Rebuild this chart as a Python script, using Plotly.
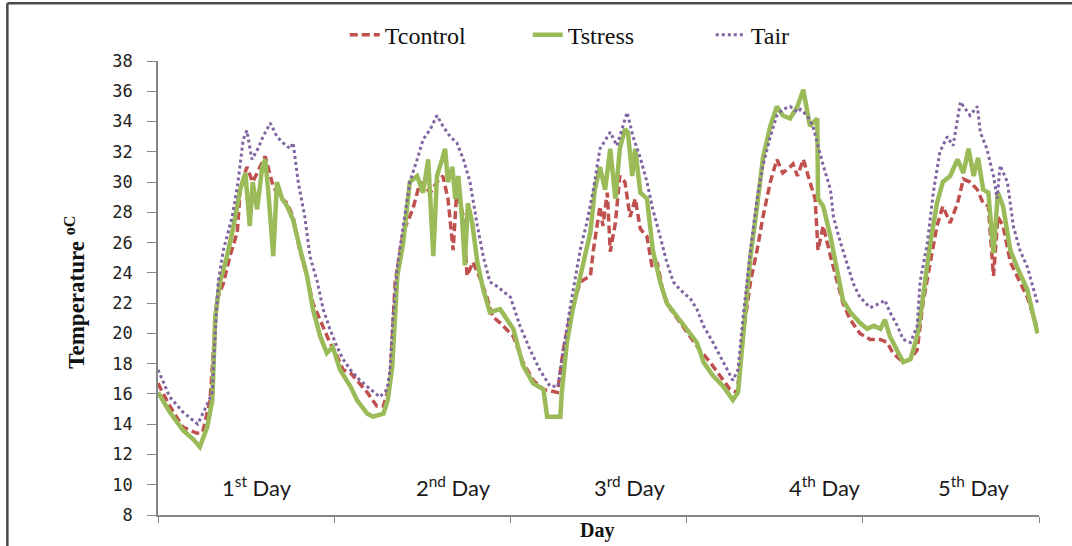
import plotly.graph_objects as go

# ---- data (hours from start, temperature in degC) ----
tair_h = [0, 1.6, 3.4, 5.4, 6.4, 7.4, 7.8, 8.2, 8.9, 10.1, 10.9, 11.6, 12.1, 12.8, 13.6, 14.3, 15.3, 16.2, 17.0, 18.0,
          18.4, 19.1, 20.0, 20.7, 21.7, 22.5, 23.4, 24.4, 25.2, 26.2, 27.5, 28.9, 30.2, 31.2, 31.6, 32.0, 32.6, 33.4,
          34.3, 35.3, 36.1, 37.1, 38.0, 38.8, 39.8, 40.7, 41.6, 42.5, 43.5, 44.3, 45.2, 46.2, 48.0, 49.3, 50.7, 52.0,
          53.4, 54.5, 55.2, 56.1, 57.5, 58.4, 59.3, 60.2, 61.6, 62.5, 63.4, 63.9, 64.7, 65.7, 66.6, 67.4, 68.4, 69.3,
          70.2, 71.1, 72.5, 73.4, 74.3, 75.6, 77.0, 78.3, 79.0, 79.7, 80.7, 81.6, 82.4, 83.4, 84.3, 85.1, 86.1, 87.1,
          87.5, 88.4, 89.2, 89.8, 90.6, 91.6, 92.0, 92.9, 93.9, 94.7, 95.6, 97.0, 98.4, 99.0, 99.7, 100.7, 101.5,
          102.5, 103.4, 103.8, 104.8, 105.6, 106.5, 107.5, 108.3, 109.3, 110.6, 111.6, 112.0, 112.9, 113.8, 114.3,
          114.7, 115.7, 116.5, 117.4, 118.4, 119.8]
tair = [17.6, 15.8, 14.8, 14.0, 15.0, 16.1, 20.0, 23.4, 25.5, 27.7, 30.0, 32.8, 33.4, 31.5, 32.2, 33.0, 33.9, 33.0, 32.6, 32.2,
        32.6, 30.0, 27.7, 25.1, 23.4, 21.6, 20.3, 19.1, 18.3, 17.6, 16.9, 16.3, 15.8, 16.3, 17.6, 21.1, 24.4, 27.1,
        30.0, 31.5, 32.8, 33.5, 34.4, 33.7, 33.0, 32.6, 31.5, 30.0, 27.1, 25.1, 23.4, 23.1, 22.4, 20.5, 18.9, 17.6,
        16.5, 16.5, 18.9, 21.6, 25.5, 27.3, 29.5, 32.2, 33.3, 32.4, 33.9, 34.6, 33.0, 31.6, 30.0, 28.2, 26.4, 24.7,
        23.4, 22.9, 22.3, 21.6, 20.5, 19.4, 18.1, 16.9, 17.6, 21.1, 25.5, 28.9, 31.1, 33.0, 34.4, 34.8, 35.0, 34.6,
        34.8, 34.4, 33.7, 32.6, 31.1, 29.5, 27.7, 26.1, 24.6, 23.3, 22.4, 21.7, 22.0, 22.2, 21.4, 20.5, 19.6,
        19.4, 20.5, 23.4, 26.0, 29.3, 32.0, 33.0, 32.4, 35.3, 34.4, 35.0, 33.3, 32.2, 30.4, 28.9,
        31.1, 30.0, 27.1, 25.5, 24.4, 22.0]

tcontrol_h = [0, 1.6, 3.4, 5.3, 6.1, 7.1, 8.0, 8.9, 9.8, 10.8, 11.2, 12.1, 12.9, 13.9, 14.6, 15.7, 16.6, 17.6, 18.4, 19.3,
              20.3, 21.1, 22.5, 23.4, 24.4, 25.2, 26.2, 27.1, 28.5, 29.8, 30.7, 31.6, 32.3, 33.4, 34.7, 35.7, 37.1, 38.0,
              38.8, 39.5, 40.2, 40.7, 41.6, 42.1, 42.9, 43.9, 44.8, 45.6, 46.6, 48.4, 49.7, 51.1, 52.5, 54.4, 55.2,
              56.1, 57.5, 58.9, 59.3, 60.2, 60.6, 61.2, 61.6, 62.3, 62.9, 63.6, 64.3, 65.0, 65.7, 66.6, 67.3, 68.0,
              68.8, 69.8, 71.1, 72.5, 73.8, 75.2, 76.6, 77.9, 78.9, 79.7, 80.7, 81.6, 82.4, 83.4, 84.3, 85.1, 86.1,
              86.5, 87.1, 87.9, 88.8, 89.5, 89.9, 90.6, 91.6, 92.5, 93.3, 94.3, 95.6, 97.0, 98.4, 99.3, 100.1, 101.5,
              102.5, 103.4, 104.2, 105.2, 106.1, 106.9, 107.9, 108.9, 109.7, 110.6, 111.6, 112.4, 113.1, 113.8,
              114.4, 115.1, 116.1, 117.0, 118.4, 119.8]
tcontrol = [16.7, 15.2, 13.8, 13.4, 13.5, 15.6, 22.2, 23.3, 25.1, 26.7, 29.5, 31.0, 30.0, 31.0, 31.7, 29.7, 29.0, 28.6, 27.7, 25.5,
            23.8, 22.0, 20.5, 19.4, 18.5, 17.6, 17.4, 16.9, 16.1, 15.2, 15.2, 16.7, 23.4, 26.7, 28.2, 30.0, 29.3, 30.0,
            30.4, 28.9, 25.5, 29.5, 27.7, 23.8, 24.7, 23.6, 22.4, 21.1, 20.7, 19.8, 18.1, 16.9, 16.3, 16.1, 18.9,
            21.1, 23.4, 23.8, 25.5, 28.4, 27.1, 29.3, 25.4, 27.3, 30.4, 30.0, 27.7, 28.9, 26.9, 26.4, 24.4, 24.7,
            22.7, 21.6, 20.7, 19.8, 18.9, 18.1, 17.2, 16.3, 16.1, 20.0, 23.4, 25.5, 27.7, 30.0, 31.5, 30.6, 31.0,
            31.2, 30.4, 31.5, 30.0, 28.9, 25.5, 27.1, 25.1, 23.4, 22.0, 20.9, 20.0, 19.6, 19.6, 19.4, 18.7, 18.1,
            18.3, 18.9, 22.0, 24.7, 27.1, 28.4, 27.3, 28.6, 30.2, 30.0, 29.5, 28.6, 28.4, 23.8,
            27.7, 27.1, 24.7, 23.8, 22.4, 20.3]

tstress_h = [0, 1.6, 3.4, 4.8, 5.7, 6.7, 7.4, 7.8, 8.4, 9.4, 10.2, 11.2, 11.9, 12.5, 12.9, 13.5, 14.2, 14.6, 15.0, 15.7,
             16.2, 16.9, 17.6, 18.4, 19.3, 20.3, 21.1, 22.1, 23.0, 23.8, 24.8, 26.2, 27.1, 28.5, 29.3, 30.7, 31.3,
             31.9, 32.6, 33.4, 34.3, 35.3, 36.1, 36.8, 37.5, 38.0, 38.7, 39.1, 39.5, 40.1, 40.5, 40.9, 41.4, 41.8,
             42.2, 42.8, 43.5, 44.3, 45.2, 46.2, 46.6, 48.4, 49.7, 51.1, 52.5, 53.0, 54.8, 55.0, 55.7, 56.5, 57.9,
             58.9, 59.5, 60.2, 60.9, 61.6, 62.3, 62.9, 63.6, 64.0, 64.6, 65.0, 65.7, 66.6, 67.4, 68.4, 69.3, 70.7,
             72.1, 73.4, 74.3, 75.6, 77.0, 78.3, 79.0, 79.7, 80.7, 81.6, 82.4, 83.4, 84.3, 85.1, 86.1, 87.1, 87.9,
             88.8, 89.8, 89.9, 90.6, 91.6, 92.5, 93.3, 94.3, 95.6, 96.6, 97.5, 98.4, 99.0, 99.7, 100.7, 101.5,
             102.5, 103.4, 104.2, 105.2, 106.1, 106.9, 107.9, 108.9, 109.7, 110.4, 111.1, 111.7, 112.4, 113.1,
             113.8, 114.4, 115.1, 116.1, 117.0, 118.4, 119.8]
tstress = [16.1, 14.8, 13.6, 13.0, 12.5, 13.8, 15.6, 21.1, 23.3, 25.1, 26.9, 29.5, 30.6, 27.1, 30.0, 28.2, 31.0, 31.5, 29.5, 25.1,
           30.0, 28.9, 28.4, 27.5, 25.7, 23.8, 21.6, 19.8, 18.7, 19.1, 17.6, 16.5, 15.6, 14.7, 14.5, 14.7, 15.6,
           17.8, 23.8, 26.0, 30.0, 30.4, 29.3, 31.5, 25.1, 30.4, 31.5, 32.2, 30.0, 31.0, 28.9, 30.4, 27.7, 24.5,
           28.6, 27.3, 24.7, 22.9, 21.4, 21.6, 21.6, 20.3, 17.9, 16.7, 16.3, 14.5, 14.5, 16.1, 19.4, 21.6, 24.4,
           26.7, 29.5, 31.0, 29.5, 32.2, 28.9, 32.2, 33.5, 33.3, 30.4, 32.2, 29.3, 28.9, 25.5, 23.4, 22.0, 21.1,
           20.3, 19.4, 18.1, 17.2, 16.5, 15.6, 16.1, 20.0, 25.1, 28.4, 31.6, 33.7, 35.0, 34.4, 34.2, 35.0, 36.1,
           33.7, 34.2, 28.9, 28.4, 26.4, 24.2, 22.2, 21.4, 20.7, 20.3, 20.5, 20.3, 20.9, 19.8, 18.9, 18.1,
           18.3, 19.8, 22.4, 26.0, 28.6, 30.0, 30.4, 31.5, 30.6, 32.2, 30.4, 31.6, 29.5, 29.3,
           25.3, 29.3, 28.4, 25.5, 24.4, 22.9, 20.0]

day_labels = ["1<sup>st</sup> Day", "2<sup>nd</sup> Day", "3<sup>rd</sup> Day", "4<sup>th</sup> Day", "5<sup>th</sup> Day"]
day_label_x = [13.5, 40.3, 64.2, 90.9, 111.2]
x_ticks = [0, 24, 48, 72, 96, 120]
y_ticks = list(range(8, 39, 2))

fig = go.Figure()
fig.add_trace(go.Scatter(x=tcontrol_h, y=tcontrol, mode="lines", name="Tcontrol",
                         line=dict(color="#C0504D", width=3.5, dash="8px,4px")))
fig.add_trace(go.Scatter(x=tstress_h, y=tstress, mode="lines", name="Tstress",
                         line=dict(color="#9BBB59", width=4.5)))
fig.add_trace(go.Scatter(x=tair_h, y=tair, mode="lines", name="Tair",
                         line=dict(color="#8064A2", width=3, dash="dot")))

for lab, xx in zip(day_labels, day_label_x):
    fig.add_annotation(x=xx, y=9.9, text=lab, showarrow=False, xref="x", yref="y",
                       font=dict(family="Lato", size=22, color="#1a1a1a"))

fig.add_annotation(x=-0.094, y=0.49, xref="paper", yref="paper", xanchor="center", yanchor="middle",
                   text="<b>Temperature <sup>oC</sup></b>", textangle=-90, showarrow=False,
                   font=dict(family="Liberation Serif", size=23, color="#111"))
fig.add_annotation(x=0.498, y=-0.034, xref="paper", yref="paper", xanchor="center", yanchor="middle",
                   text="<b>Day</b>", showarrow=False,
                   font=dict(family="Liberation Serif", size=20, color="#111"))

# outer frame (top and left edges visible)
fig.add_shape(type="line", xref="paper", yref="paper", x0=-0.171, x1=1.04, y0=1.127, y1=1.127,
              line=dict(color="#4a4a4a", width=2.5))
fig.add_shape(type="line", xref="paper", yref="paper", x0=-0.171, x1=-0.171, y0=-0.09, y1=1.127,
              line=dict(color="#4a4a4a", width=2.5))

fig.update_xaxes(range=[0, 120], tickvals=x_ticks, showticklabels=False, ticks="outside", ticklen=6,
                 tickcolor="#868686", showline=True, linecolor="#868686", linewidth=1.5, showgrid=False,
                 zeroline=False)
fig.update_yaxes(range=[8, 38], tickvals=y_ticks, ticks="outside", ticklen=9, tickcolor="#868686",
                 showline=True, linecolor="#868686", linewidth=1.5, showgrid=False, zeroline=False,
                 ticklabelstandoff=11, tickfont=dict(family="DejaVu Sans Mono", size=17, color="#222"))

fig.update_layout(
    width=1072, height=546, autosize=False,
    margin=dict(l=158, r=33, t=61, b=31),
    paper_bgcolor="white", plot_bgcolor="white",
    legend=dict(orientation="h", x=0.212, xanchor="left", y=1.057, yanchor="middle",
                font=dict(family="Liberation Serif", size=24, color="#111"), bgcolor="rgba(0,0,0,0)",
                entrywidth=138, itemwidth=30),
    showlegend=True,
)

fig.write_html("out.html", config={"displayModeBar": False},
               post_script="document.body.style.margin='0';document.body.style.overflow='hidden';")
